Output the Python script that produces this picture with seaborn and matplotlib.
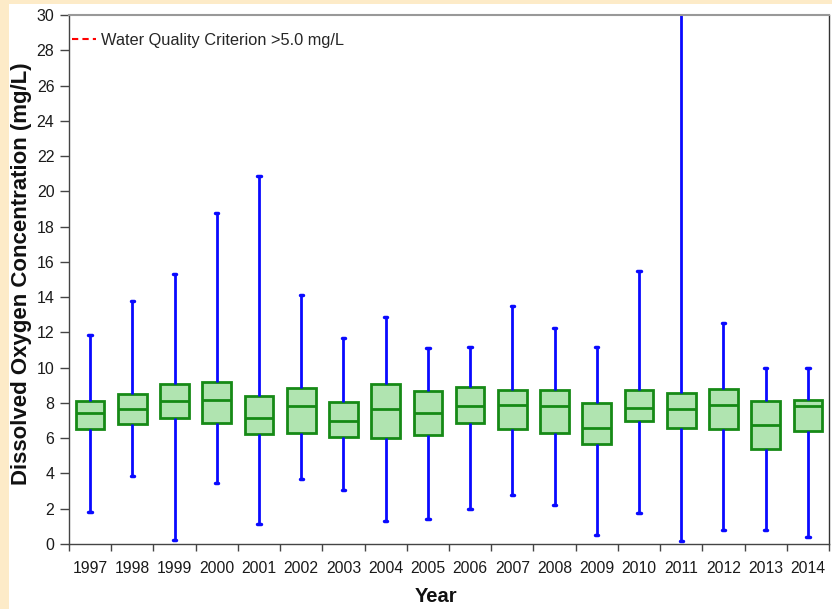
import matplotlib
matplotlib.use("Agg")
import matplotlib.pyplot as plt
from matplotlib.lines import Line2D
from matplotlib.patches import Rectangle
import seaborn as sns
import pandas as pd
import numpy as np

years = [str(y) for y in range(1997, 2015)]
whisker_low = [1.83, 3.85, 0.23, 3.47, 1.15, 3.68, 3.08, 1.28, 1.44, 1.98, 2.76, 2.23, 0.49, 1.78, 0.17, 0.79, 0.78, 0.41]
q1 = [6.52, 6.82, 7.16, 6.86, 6.23, 6.29, 6.08, 6.00, 6.16, 6.86, 6.50, 6.27, 5.67, 6.95, 6.59, 6.53, 5.38, 6.42]
median = [7.42, 7.67, 8.10, 8.16, 7.12, 7.80, 6.95, 7.65, 7.44, 7.80, 7.88, 7.80, 6.57, 7.70, 7.65, 7.86, 6.74, 7.82]
q3 = [8.12, 8.50, 9.08, 9.16, 8.37, 8.86, 8.06, 9.08, 8.65, 8.90, 8.71, 8.74, 8.00, 8.74, 8.59, 8.78, 8.10, 8.16]
whisker_high = [11.83, 13.77, 15.32, 18.77, 20.89, 14.13, 11.69, 12.90, 11.10, 11.20, 13.48, 12.26, 11.18, 15.49, 32.0, 12.56, 9.99, 9.99]
yticks = list(range(0, 31, 2))
legend_label = "Water Quality Criterion >5.0 mg/L"

rows = []
for i, yr in enumerate(years):
    for v in (whisker_low[i], q1[i], median[i], q3[i], whisker_high[i]):
        rows.append({"Year": yr, "DO": v})
df = pd.DataFrame(rows)

sns.set_style("white")
plt.rcParams["font.family"] = ["Liberation Sans", "DejaVu Sans"]

fig = plt.figure(figsize=(8.32, 6.09), dpi=100)
fig.patch.set_facecolor("#fdebc8")
bg = Rectangle((9/832, 0), 1, 1 - 4/609, transform=fig.transFigure,
               facecolor="white", edgecolor="none", zorder=-10)
fig.add_artist(bg)
ax = fig.add_axes([69/832, 1 - 544/609, (829 - 69)/832, (544 - 15)/609])
ax.set_zorder(1)

green = "#168a16"
blue = "#0a0aff"
sns.boxplot(data=df, x="Year", y="DO", order=years, whis=(0, 100), width=0.68,
            color="#b0e4b0", linewidth=2, ax=ax, saturation=1,
            boxprops=dict(facecolor="#b0e4b0", edgecolor=green, linewidth=2),
            medianprops=dict(color=green, linewidth=2),
            whiskerprops=dict(color=blue, linewidth=2),
            capprops=dict(color=blue, linewidth=2.5),
            capwidths=0.08)

ax.set_ylim(0, 30)
ax.set_xlim(-0.5, len(years) - 0.5)
ax.set_yticks(yticks)
ax.set_yticklabels([str(t) for t in yticks], fontsize=11.5)
ax.set_xticks(range(len(years)))
ax.set_xticklabels(years, fontsize=11.3)
ax.set_xticks(np.arange(-0.5, len(years), 1.0), minor=True)
ax.tick_params(axis="x", which="major", bottom=True, length=0, pad=12.5, labelcolor="#1a1a1a")
ax.tick_params(axis="x", which="minor", bottom=True, length=5, width=1, color="#444444",
               direction="out")
ax.tick_params(axis="y", which="major", left=True, length=6.5, width=1, direction="out",
               color="#444444", labelcolor="#1a1a1a", pad=4)

ax.set_xlabel("Year", fontsize=14.5, fontweight="bold", color="#111111")
ax.xaxis.set_label_coords((436 - 69) / 760, -(587 - 544) / 529)
ax.set_ylabel("Dissolved Oxygen Concentration (mg/L)", fontsize=16, fontweight="bold",
              color="#111111")
ax.yaxis.set_label_coords(-(69 - 32) / 760, (544 - 274) / 529)

for s in ["left", "bottom"]:
    ax.spines[s].set_color("#444444")
    ax.spines[s].set_linewidth(1)
ax.spines["top"].set_color("#999999")
ax.spines["top"].set_linewidth(1.5)
ax.spines["right"].set_color("#333333")
ax.spines["right"].set_linewidth(1)

handle = Line2D([], [], color="red", linestyle=(0, (3, 2)), linewidth=1.5)
ax.legend([handle], [legend_label], loc="upper left", frameon=False, fontsize=11.8,
          handlelength=1.45, handletextpad=0.35, bbox_to_anchor=(-0.009, 0.985),
          borderaxespad=0.2)

fig.savefig("out.png", dpi=100)
